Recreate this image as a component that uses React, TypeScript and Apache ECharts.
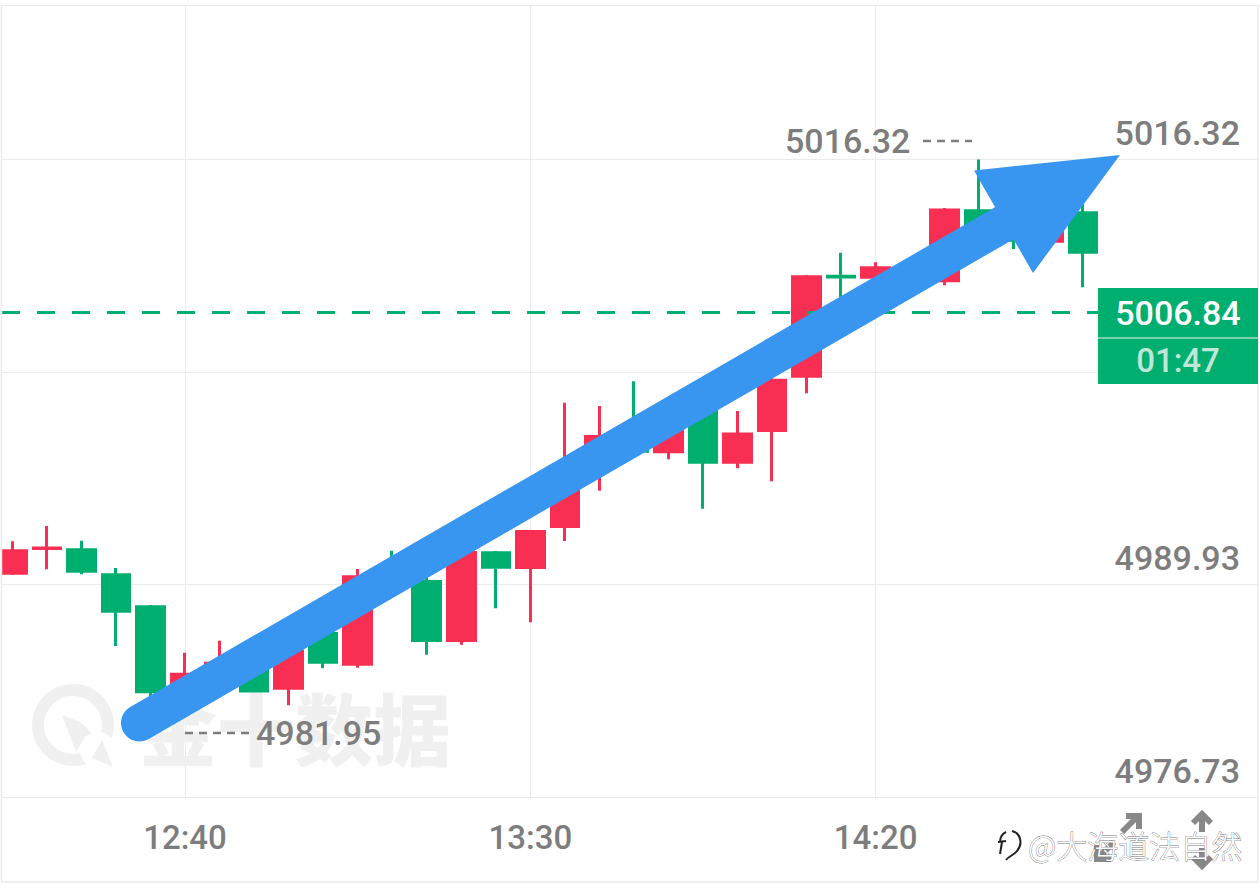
import React, { useEffect, useRef } from 'react';
import * as echarts from 'echarts';

const times = [
  '12:15', '12:20', '12:25', '12:30', '12:35', '12:40', '12:45', '12:50', '12:55',
  '13:00', '13:05', '13:10', '13:15', '13:20', '13:25', '13:30', '13:35', '13:40', '13:45',
  '13:50', '13:55', '14:00', '14:05', '14:10', '14:15', '14:20', '14:25', '14:30', '14:35',
  '14:40', '14:45', '14:50',
];
const xTickLabels = ['12:40', '13:30', '14:20'];
const yTickLabels = ['4976.73', '4989.93', '', '5016.32'];

const opens = [
  4990.63, 4992.16, 4992.09, 4990.53, 4988.55, 4982.84, 4984.09, 4984.96,
  4983.48, 4986.89, 4984.98, 4990.83, 4990.12, 4986.45, 4991.9, 4990.98,
  4993.53, 4997.44, 4999.56, 4998.17, 5000.78, 4997.52, 4999.49, 5002.86,
  5009.07, 5009.01, 5009.25, 5008.79, 5013.14, 5012.79, 5011.25, 5013.02,
];
const closes = [
  4992.03, 4992.2, 4990.75, 4988.27, 4983.26, 4984.36, 4985.04, 4983.32,
  4985.77, 4985.1, 4990.41, 4989.71, 4986.45, 4991.92, 4991.0, 4993.22,
  4996.95, 4999.12, 4998.21, 4999.75, 4997.52, 4999.27, 5002.62, 5009.04,
  5009.03, 5009.6, 5008.56, 5013.18, 5011.42, 5011.31, 5012.79, 5010.57,
];
const lows = [
  4990.52, 4990.87, 4990.56, 4986.11, 4982.96, 4981.95, 4983.38, 4983.22,
  4982.43, 4984.72, 4984.76, 4989.46, 4985.57, 4986.19, 4988.45, 4987.58,
  4992.63, 4995.75, 4998.1, 4997.71, 4994.64, 4997.15, 4996.34, 5001.8,
  5007.79, 5008.84, 5008.34, 5008.51, 5011.02, 5010.77, 5011.11, 5008.39,
];
const highs = [
  4992.61, 4993.56, 4992.65, 4990.95, 4988.66, 4985.69, 4986.44, 4985.55,
  4986.17, 4987.1, 4990.89, 4992.03, 4990.46, 4992.13, 4992.01, 4993.31,
  5001.22, 5001.02, 5002.55, 5000.15, 5000.89, 5000.71, 5002.84, 5009.15,
  5010.54, 5009.94, 5009.59, 5013.31, 5016.32, 5013.19, 5013.07, 5013.62,
];
const lastPrice = 5006.84;

const RED = '#f82f52';
const GREEN = '#00af6f';
const BLUE = '#3996f0';
const GRAY = '#7d7d7d';
const LINE = '#ebebeb';
const NUM_FONT = 'Roboto';

const toMinutes = (t: string) => {
  const [h, m] = t.split(':').map(Number);
  return h * 60 + m;
};
const fromMinutes = (v: number) =>
  `${Math.floor(v / 60)}:${String(v % 60).padStart(2, '0')}`;

echarts.graphic.registerShape(
  'zhLogo',
  echarts.graphic.extendPath(
    'M9 2C5 4 3 8 3 12M1 12L9 11M5 12L3 24M15 1C24 3 26 14 20 21C17 25 12 26 9 30',
    {},
  ) as any,
);

const numText = (text: string, x: number, y: number, extra: any = {}) => ({
  type: 'text',
  x,
  y,
  z: 50,
  style: {
    text,
    fontFamily: NUM_FONT,
    fontSize: 34,
    fontWeight: 500,
    fill: GRAY,
    textVerticalAlign: 'middle',
    ...extra,
  },
});

const stroke = (color: string, lineWidth: number, extra: any = {}) => ({
  stroke: color,
  fill: 'none',
  lineWidth,
  ...extra,
});

const App: React.FC = () => {
  const chartRef = useRef<HTMLDivElement>(null);

  useEffect(() => {
    const chart = echarts.init(chartRef.current!, null, { renderer: 'svg' });

    const xTicks = xTickLabels.map(toMinutes);

    chart.setOption({
      animation: false,
      backgroundColor: '#fff',
      grid: { left: 0, right: 0, top: 5, height: 792 },
      xAxis: {
        type: 'value',
        min: 733.21,
        max: 915.66,
        axisLine: { show: false },
        axisTick: { show: false, customValues: xTicks },
        axisLabel: {
          customValues: xTicks,
          margin: 24,
          color: GRAY,
          fontFamily: NUM_FONT,
          fontSize: 33,
          fontWeight: 500,
          formatter: (v: number) => fromMinutes(v),
        },
        splitLine: { show: true, lineStyle: { color: LINE, width: 1 } },
      },
      yAxis: {
        type: 'value',
        position: 'right',
        offset: -20,
        min: 4976.73,
        max: 5025.92,
        interval: 4976.73 / 377,
        axisLine: { show: false },
        axisTick: { show: false },
        axisLabel: {
          inside: true,
          margin: 0,
          color: GRAY,
          fontFamily: NUM_FONT,
          fontSize: 34,
          fontWeight: 500,
          verticalAlign: 'bottom',
          padding: [0, 0, 9, 0],
          formatter: (_: number, i: number) => yTickLabels[i] ?? '',
        },
        splitLine: { show: true, lineStyle: { color: LINE, width: 1 } },
      },
      series: [
        {
          type: 'candlestick',
          data: times.map((t, i) => [toMinutes(t), opens[i], closes[i], lows[i], highs[i]]),
          barWidth: 28,
          z: 3,
          itemStyle: {
            color: RED,
            color0: GREEN,
            borderColor: RED,
            borderColor0: GREEN,
            borderWidth: 3,
          },
          markLine: {
            silent: true,
            symbol: 'none',
            z: 4,
            label: { show: false },
            lineStyle: { color: GREEN, width: 3, type: [18, 17], dashOffset: 33.3 },
            data: [{ yAxis: lastPrice }],
          },
        },
      ],
      graphic: [
        // frame
        { type: 'rect', shape: { x: 0, y: 0, width: 1, height: 896 }, style: { fill: '#fff' }, z: 5 },
        { type: 'line', shape: { x1: 1.5, y1: 5, x2: 1.5, y2: 882 }, style: stroke(LINE, 1.5), z: 5 },
        { type: 'line', shape: { x1: 1258, y1: 5, x2: 1258, y2: 882 }, style: stroke(LINE, 1.5), z: 5 },
        { type: 'rect', shape: { x: 1259, y: 0, width: 1, height: 896 }, style: { fill: '#fff' }, z: 5 },
        { type: 'line', shape: { x1: 1, y1: 882, x2: 1258, y2: 882 }, style: stroke(LINE, 1.5), z: 5 },

        // watermark
        { type: 'circle', shape: { cx: 73, cy: 725, r: 35 }, style: stroke('#f0f0f0', 12), z: 1 },
        {
          type: 'polygon',
          shape: { points: [[62, 715], [80, 722], [92, 733], [80, 745], [76, 752]] },
          style: { fill: '#f0f0f0' },
          z: 1,
        },
        { type: 'circle', shape: { cx: 98, cy: 750, r: 18 }, style: { fill: '#fff' }, z: 1 },
        {
          type: 'polygon',
          shape: { points: [[102, 740], [113, 767], [92, 758]] },
          style: { fill: '#f0f0f0' },
          z: 1,
        },
        {
          type: 'text',
          x: 139,
          y: 726,
          z: 1,
          style: {
            text: '金十数据',
            fontFamily: 'Noto Sans CJK SC',
            fontSize: 78,
            fontWeight: 900,
            fill: '#f0f0f0',
            textVerticalAlign: 'middle',
          },
        },

        // max / min markers
        numText('5016.32', 785, 141),
        { type: 'line', shape: { x1: 923, y1: 141, x2: 972, y2: 141 }, style: stroke(GRAY, 2.5, { lineDash: [8, 6] }), z: 50 },
        { type: 'line', shape: { x1: 185, y1: 733, x2: 250, y2: 733 }, style: stroke(GRAY, 2.5, { lineDash: [8, 6] }), z: 50 },
        numText('4981.95', 256, 733),

        // last price tag
        { type: 'rect', shape: { x: 1098, y: 288, width: 160, height: 96 }, style: { fill: GREEN }, z: 40 },
        { type: 'line', shape: { x1: 1098, y1: 338, x2: 1258, y2: 338 }, style: stroke('#9fdcc4', 1.5), z: 41 },
        numText(lastPrice.toFixed(2), 1178, 313, { fill: '#fff', textAlign: 'center' }),
        numText('01:47', 1178, 360, { fill: '#bfe7d8', textAlign: 'center', fontSize: 33 }),

        // hand-drawn arrow
        {
          type: 'line',
          shape: { x1: 139.5, y1: 723, x2: 1015, y2: 217 },
          style: stroke(BLUE, 37, { lineCap: 'round' }),
          z: 60,
        },
        {
          type: 'polygon',
          shape: { points: [[1120, 155], [974, 170.5], [1033, 273]] },
          style: { fill: BLUE },
          z: 60,
        },

        // bottom right tools
        {
          type: 'polyline',
          shape: { points: [[1122, 832], [1138, 816]] },
          style: stroke('#888', 6),
          z: 45,
        },
        { type: 'polyline', shape: { points: [[1126, 816], [1139, 816], [1139, 829]] }, style: stroke('#888', 6), z: 45 },
        { type: 'polyline', shape: { points: [[1098, 858], [1114, 842]] }, style: stroke('#888', 6), z: 45 },
        { type: 'polyline', shape: { points: [[1097, 845], [1097, 859], [1111, 859]] }, style: stroke('#888', 6), z: 45 },
        { type: 'polyline', shape: { points: [[1202, 815], [1202, 832]] }, style: stroke('#888', 6), z: 45 },
        { type: 'polyline', shape: { points: [[1193, 823], [1202, 814], [1211, 823]] }, style: stroke('#888', 6), z: 45 },
        { type: 'polyline', shape: { points: [[1202, 848], [1202, 865]] }, style: stroke('#888', 6), z: 45 },
        { type: 'polyline', shape: { points: [[1193, 857], [1202, 866], [1211, 857]] }, style: stroke('#888', 6), z: 45 },

        // repost credit
        { type: 'zhLogo', x: 997, y: 830, style: stroke('#222', 2), z: 70 },
        {
          type: 'text',
          x: 1028,
          y: 844,
          z: 70,
          style: {
            text: '@大海道法自然',
            fontFamily: 'Noto Sans CJK SC',
            fontSize: 31,
            fontWeight: 300,
            fill: '#fff',
            stroke: '#777',
            lineWidth: 0.8,
            textVerticalAlign: 'middle',
          },
        },
      ],
    });

    return () => {
      chart.dispose();
    };
  }, []);

  return <div ref={chartRef} style={{ position: 'absolute', left: 0, top: 0, width: 1260, height: 896 }} />;
};

export default App;
